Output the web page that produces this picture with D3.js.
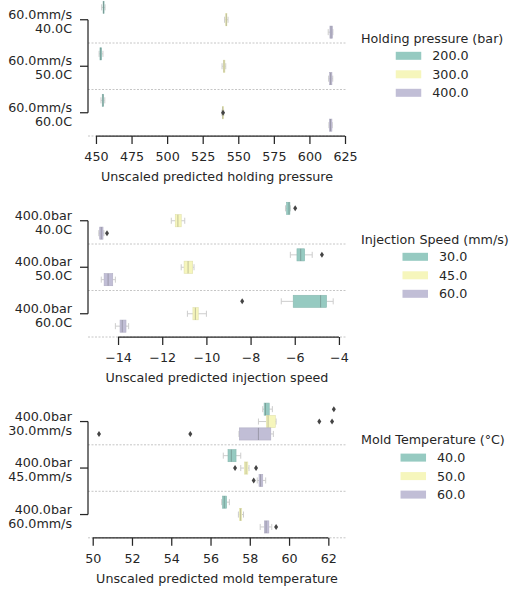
<!DOCTYPE html>
<html>
<head>
<meta charset="utf-8">
<script src="https://cdn.jsdelivr.net/npm/d3@7"></script>
<style>
  body { margin: 0; background: #fff; }
  text { font-family: "DejaVu Sans", sans-serif; fill: #262626; }
</style>
</head>
<body>
<svg id="chart" width="509" height="589"></svg>
<script>
// ---- data (box stats per category per hue: [q1, median, q3, whiskerLow, whiskerHigh]) ----
const hpCats = ["60.0mm/s|40.0C", "60.0mm/s|50.0C", "60.0mm/s|60.0C"];
const hpLevels = ["200.0", "300.0", "400.0"];
const hpBoxes = [
  [[455.0, 455.3, 455.6, 454.0, 456.4], [541.2, 541.6, 542.0, 540.4, 542.8], [614.4, 615.2, 616.2, 613.2, 616.5]],
  [[452.8, 453.3, 454.0, 452.2, 454.9], [539.5, 540.0, 540.6, 538.6, 541.2], [614.2, 614.9, 615.8, 613.5, 616.4]],
  [[454.4, 454.9, 455.4, 453.5, 456.2], [538.9, 539.1, 539.4, 538.5, 539.8], [614.0, 614.8, 615.8, 613.7, 616.0]]
];
const hpFliers = [[2, 1, 539.3]]; // [category, hue, value]
const hpTicks = [450, 475, 500, 525, 550, 575, 600, 625];

const isCats = ["400.0bar|40.0C", "400.0bar|50.0C", "400.0bar|60.0C"];
const isLevels = ["30.0", "45.0", "60.0"];
const isBoxes = [
  [[-6.37, -6.26, -6.22, -6.42, -6.20], [-11.41, -11.29, -11.14, -11.59, -10.98], [-14.83, -14.76, -14.68, -14.87, -14.64]],
  [[-5.90, -5.73, -5.55, -6.20, -5.21], [-11.01, -10.83, -10.62, -11.14, -10.56], [-14.63, -14.45, -14.24, -14.76, -14.12]],
  [[-6.07, -4.83, -4.56, -6.61, -4.26], [-10.61, -10.50, -10.37, -10.86, -10.00], [-13.91, -13.81, -13.64, -14.12, -13.52]]
];
const isFliers = [[0, 0, -5.98], [0, 2, -14.5], [1, 0, -4.77], [2, 0, -8.38]];
const isTicks = [-14, -12, -10, -8, -6, -4];

const mtCats = ["400.0bar|30.0mm/s", "400.0bar|45.0mm/s", "400.0bar|60.0mm/s"];
const mtLevels = ["40.0", "50.0", "60.0"];
const mtBoxes = [
  [[58.73, 58.80, 58.99, 58.66, 59.15], [58.84, 58.93, 59.30, 58.44, 59.34], [57.47, 58.44, 59.07, 57.45, 59.20]],
  [[56.89, 57.06, 57.30, 56.65, 57.54], [57.72, 57.81, 57.90, 57.54, 57.96], [58.47, 58.55, 58.66, 58.38, 58.81]],
  [[56.61, 56.70, 56.82, 56.57, 56.96], [57.47, 57.53, 57.59, 57.42, 57.68], [58.74, 58.83, 58.97, 58.53, 59.12]]
];
const mtFliers = [[0, 0, 62.28], [0, 1, 61.54], [0, 1, 62.19], [0, 2, 50.32], [0, 2, 54.97],
                  [1, 1, 57.25], [1, 1, 58.32], [1, 2, 58.20], [2, 2, 59.34]];
const mtTicks = [50, 52, 54, 56, 58, 60, 62];

const palette = ["#96cac1", "#f6f6bc", "#c1bed6"];

const panels = [
  { cats: hpCats, levels: hpLevels, boxes: hpBoxes, fliers: hpFliers, ticks: hpTicks,
    domain: [444.4, 625.7], top: -3.5,
    title: "Holding pressure (bar)", label: "Unscaled predicted holding pressure" },
  { cats: isCats, levels: isLevels, boxes: isBoxes, fliers: isFliers, ticks: isTicks,
    domain: [-15.36, -3.68], top: 197.5,
    title: "Injection Speed (mm/s)", label: "Unscaled predicted injection speed" },
  { cats: mtCats, levels: mtLevels, boxes: mtBoxes, fliers: mtFliers, ticks: mtTicks,
    domain: [49.76, 62.9], top: 398.3,
    title: "Mold Temperature (°C)", label: "Unscaled predicted mold temperature" }
];

const svg = d3.select("#chart");
const left = 88, right = 346, plotH = 139.5;
const fs = "12.7px";

panels.forEach((p) => {
  const g = svg.append("g");
  const bottom = p.top + plotH;

  const x = d3.scaleLinear().domain(p.domain).range([left, right]);
  const y = d3.scaleBand().domain(p.cats).range([p.top, bottom]);
  const bw = y.bandwidth();
  const hue = d3.scaleBand().domain(p.levels).range([bw * 0.1, bw * 0.9]);
  const h = hue.bandwidth() * 0.98;

  // dashed separators between categories
  g.selectAll(".sep")
    .data(p.cats)
    .join("line")
    .attr("class", "sep")
    .attr("x1", left)
    .attr("x2", right)
    .attr("y1", (d) => y(d) + bw)
    .attr("y2", (d) => y(d) + bw)
    .attr("stroke", "#b8b8b8")
    .attr("stroke-width", 0.8)
    .attr("stroke-dasharray", "2,1.5");

  // boxes
  const rows = [];
  p.boxes.forEach((catBoxes, i) =>
    catBoxes.forEach((s, j) => rows.push({ cat: p.cats[i], lvl: p.levels[j], j, s }))
  );

  const box = g.selectAll(".box")
    .data(rows)
    .join("g")
    .attr("class", "box")
    .attr("transform", (d) => `translate(0,${y(d.cat) + hue(d.lvl) + (hue.bandwidth() - h) / 2})`);

  box.append("line") // low whisker
    .attr("x1", (d) => x(d.s[3])).attr("x2", (d) => x(d.s[0]))
    .attr("y1", h / 2).attr("y2", h / 2);
  box.append("line") // high whisker
    .attr("x1", (d) => x(d.s[2])).attr("x2", (d) => x(d.s[4]))
    .attr("y1", h / 2).attr("y2", h / 2);
  box.append("line") // caps
    .attr("x1", (d) => x(d.s[3])).attr("x2", (d) => x(d.s[3]))
    .attr("y1", h / 4).attr("y2", (h * 3) / 4);
  box.append("line")
    .attr("x1", (d) => x(d.s[4])).attr("x2", (d) => x(d.s[4]))
    .attr("y1", h / 4).attr("y2", (h * 3) / 4);
  box.selectAll("line").attr("stroke", "#cdcdcd").attr("stroke-width", 1);

  box.append("rect")
    .attr("x", (d) => x(d.s[0]))
    .attr("width", (d) => Math.max(1, x(d.s[2]) - x(d.s[0])))
    .attr("height", h)
    .attr("fill", (d) => palette[d.j])
    .attr("stroke", (d) => d3.color(palette[d.j]).darker(0.25))
    .attr("stroke-width", 0.6);

  box.append("line")
    .attr("class", "median")
    .attr("x1", (d) => x(d.s[1])).attr("x2", (d) => x(d.s[1]))
    .attr("y1", 0).attr("y2", h)
    .attr("stroke", "rgba(70,70,70,0.3)")
    .attr("stroke-width", 1);

  // outliers (thin diamonds)
  g.selectAll(".flier")
    .data(p.fliers)
    .join("path")
    .attr("class", "flier")
    .attr("d", "M0,-3L2,0L0,3L-2,0Z")
    .attr("transform", (d) => `translate(${x(d[2])},${y(p.cats[d[0]]) + hue(p.levels[d[1]]) + hue.bandwidth() / 2})`)
    .attr("fill", "#444");

  // x axis (trimmed spine)
  const xAxis = d3.axisBottom(x).tickValues(p.ticks).tickSize(8).tickPadding(8);
  const gx = g.append("g")
    .attr("transform", `translate(0,${bottom})`)
    .call(xAxis);
  gx.select(".domain").remove();
  gx.selectAll(".tick line").attr("stroke", "#262626").attr("stroke-width", 1.25);
  gx.selectAll(".tick text").attr("font-size", fs).attr("font-family", "DejaVu Sans").attr("fill", "#262626");
  gx.append("line")
    .attr("x1", x(p.ticks[0]))
    .attr("x2", x(p.ticks[p.ticks.length - 1]))
    .attr("stroke", "#262626")
    .attr("stroke-width", 1.25);

  g.append("text")
    .attr("x", (left + right) / 2)
    .attr("y", bottom + 45)
    .attr("text-anchor", "middle")
    .attr("font-size", fs)
    .text(p.label);

  // y axis (trimmed spine)
  const centers = p.cats.map((c) => y(c) + bw / 2);
  g.append("line")
    .attr("x1", left).attr("x2", left)
    .attr("y1", centers[0]).attr("y2", centers[centers.length - 1])
    .attr("stroke", "#262626").attr("stroke-width", 1.25);

  const yt = g.selectAll(".ytick")
    .data(p.cats)
    .join("g")
    .attr("class", "ytick")
    .attr("transform", (d) => `translate(0,${y(d) + bw / 2})`);
  yt.append("line")
    .attr("x1", left - 8).attr("x2", left)
    .attr("stroke", "#262626").attr("stroke-width", 1.25);
  const lbl = yt.append("text")
    .attr("text-anchor", "end")
    .attr("font-size", fs);
  lbl.append("tspan").attr("x", 72).attr("y", -1).text((d) => d.split("|")[0]);
  lbl.append("tspan").attr("x", 72).attr("y", 13).text((d) => d.split("|")[1]);

  // legend
  const lg = g.append("g");
  const title = lg.append("text")
    .attr("x", 361)
    .attr("y", p.top + 46)
    .attr("font-size", fs)
    .text(p.title);
  const cx = 361 + title.node().getComputedTextLength() / 2;

  const items = lg.selectAll(".item")
    .data(p.levels)
    .join("g")
    .attr("class", "item")
    .attr("transform", (d, i) => `translate(0,${p.top + 59.3 + i * 18.5})`);
  items.append("rect")
    .attr("y", -4)
    .attr("width", 25.5)
    .attr("height", 8)
    .attr("fill", (d, i) => palette[i]);
  items.append("text")
    .attr("x", 36.5)
    .attr("y", 4.6)
    .attr("font-size", fs)
    .text((d) => d);
  items.each(function () {
    const w = 36.5 + d3.select(this).select("text").node().getComputedTextLength();
    const t = d3.select(this).attr("transform");
    d3.select(this).attr("transform", t + ` translate(${cx - w / 2},0)`);
  });
});
</script>
</body>
</html>
